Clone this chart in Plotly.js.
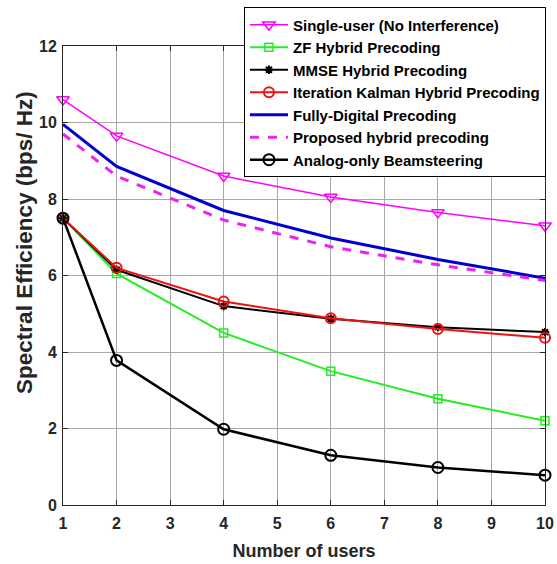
<!DOCTYPE html>
<html><head><meta charset="utf-8">
<script src="https://cdn.plot.ly/plotly-3.0.1.min.js"></script>
<style>html,body{margin:0;padding:0;background:#fff;}#chart{width:557px;height:564px;}</style>
</head><body><div id="chart"></div>
<script>
const users = [1, 2, 4, 6, 8, 10];
const singleUser = [10.6, 9.65, 8.6, 8.05, 7.65, 7.3];
const zfHybrid = [7.5, 6.05, 4.5, 3.5, 2.78, 2.2];
const mmseHybrid = [7.5, 6.15, 5.2, 4.87, 4.65, 4.52];
const kalmanHybrid = [7.5, 6.2, 5.32, 4.88, 4.6, 4.37];
const fullyDigital = [9.95, 8.85, 7.7, 6.98, 6.42, 5.93];
const proposed = [9.7, 8.6, 7.45, 6.75, 6.28, 5.87];
const analogOnly = [7.5, 3.78, 1.98, 1.3, 0.98, 0.78];
const xTicks = [1,2,3,4,5,6,7,8,9,10];
const yTicks = [0,2,4,6,8,10,12];

const traces = [
  {x: users, y: singleUser, name: 'Single-user (No Interference)', mode: 'lines+markers', cliponaxis: false,
   line: {color: '#ff00ff', width: 1.5}, marker: {symbol: 'triangle-down-open', size: 11, color: '#ff00ff', line: {width: 1.5}}},
  {x: users, y: zfHybrid, name: 'ZF Hybrid Precoding', mode: 'lines+markers', cliponaxis: false,
   line: {color: '#22ee22', width: 2}, marker: {symbol: 'square-open', size: 8, color: '#22ee22', line: {width: 1.5}}},
  {x: users, y: mmseHybrid, name: 'MMSE Hybrid Precoding', mode: 'lines+markers', cliponaxis: false,
   line: {color: '#000000', width: 2}, marker: {symbol: 'asterisk-open', size: 7, color: '#000000', line: {width: 2}}},
  {x: users, y: kalmanHybrid, name: 'Iteration Kalman Hybrid Precoding', mode: 'lines+markers', cliponaxis: false,
   line: {color: '#ee1111', width: 2}, marker: {symbol: 'circle-open', size: 10, color: '#ee1111', line: {width: 2}}},
  {x: users, y: fullyDigital, name: 'Fully-Digital Precoding', mode: 'lines', cliponaxis: false,
   line: {color: '#0000cc', width: 3}},
  {x: users, y: proposed, name: 'Proposed hybrid precoding', mode: 'lines', cliponaxis: false,
   line: {color: '#ee22ee', width: 3, dash: 'dash'}},
  {x: users, y: analogOnly, name: 'Analog-only Beamsteering', mode: 'lines+markers', cliponaxis: false,
   line: {color: '#000000', width: 2.5}, marker: {symbol: 'circle-open', size: 11, color: '#000000', line: {width: 2}}}
];

const fam = 'Liberation Sans, Arial, sans-serif';
const tickFont = {family: fam, size: 16, color: '#262626', weight: 'bold'};
const layout = {
  width: 557, height: 564,
  margin: {l: 63, r: 12, t: 46, b: 59, autoexpand: false},
  paper_bgcolor: '#ffffff', plot_bgcolor: '#ffffff',
  showlegend: true,
  xaxis: {range: [1, 10], tickvals: xTicks, ticktext: xTicks.map(String), tickfont: tickFont,
    showgrid: true, gridcolor: '#a8a8a8', gridwidth: 1, zeroline: false, automargin: false,
    showline: true, linecolor: '#262626', linewidth: 1, mirror: 'ticks', ticks: 'inside', ticklen: 5, tickcolor: '#262626',
    ticklabelstandoff: 4,
    title: {text: 'Number of users', font: {family: fam, size: 18, color: '#262626', weight: 'bold'}, standoff: 13}},
  yaxis: {range: [0, 12], tickvals: yTicks, ticktext: yTicks.map(String), tickfont: tickFont,
    showgrid: true, gridcolor: '#a8a8a8', gridwidth: 1, zeroline: false, automargin: false,
    showline: true, linecolor: '#262626', linewidth: 1, mirror: 'ticks', ticks: 'inside', ticklen: 5, tickcolor: '#262626',
    ticklabelstandoff: 2},
  annotations: [{text: 'Spectral Efficiency (bps/ Hz)', xref: 'paper', yref: 'paper',
    x: -0.079, y: 0.573, xanchor: 'center', yanchor: 'middle', textangle: -90, showarrow: false,
    font: {family: fam, size: 22.5, color: '#262626', weight: 'bold'}}],
  legend: {x: 1.002, y: 1.084, xanchor: 'right', yanchor: 'top', bgcolor: '#ffffff',
    bordercolor: '#000000', borderwidth: 1, itemwidth: 38, tracegroupgap: 0,
    font: {family: fam, size: 15, color: '#000000', weight: 'bold'}}
};
Plotly.newPlot('chart', traces, layout, {displayModeBar: false});
</script>
</body></html>
